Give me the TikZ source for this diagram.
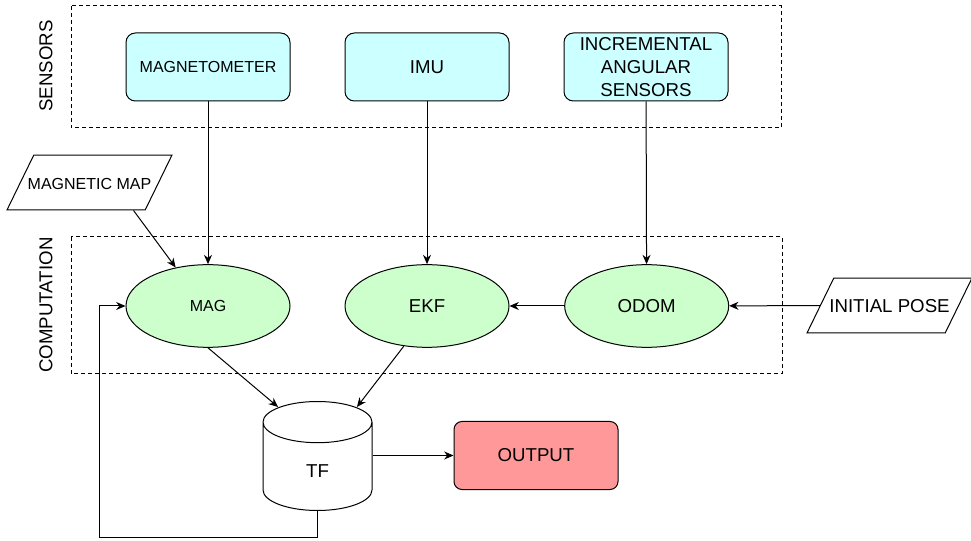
\documentclass[tikz,border=0pt]{standalone}
\usepackage{fontspec}
\setmainfont{Liberation Sans}
\usetikzlibrary{arrows.meta,positioning,shapes.geometric}

\definecolor{sensorfill}{HTML}{CCFFFF}
\definecolor{procfill}{HTML}{CCFFCC}
\definecolor{outfill}{HTML}{FF9999}

\begin{document}
\begin{tikzpicture}[x=0.75pt, y=-0.75pt, line width=0.75pt,
  every node/.style={font=\fontsize{14}{17}\selectfont},
  small/.style={font=\fontsize{12}{14}\selectfont},
  sensor/.style={draw, rounded corners=7pt, fill=sensorfill, minimum width=123pt, minimum height=51pt, align=center, inner sep=1pt},
  proc/.style={draw, ellipse, fill=procfill, minimum width=123pt, minimum height=62pt, inner sep=0pt},
  datain/.style={draw, trapezium, trapezium left angle=64, trapezium right angle=116, trapezium stretches body=true, minimum width=123.75pt, text height=10pt, text depth=0pt, inner ysep=15.6pt, inner xsep=0pt},
  group/.style={draw, dash pattern=on 3pt off 2.25pt},
  arr/.style={-{Stealth[length=7pt,width=6pt]}}]
  \useasboundingbox (0,0) rectangle (971,541);

  % dashed groups
  \draw[group] (71,6) rectangle (781,128);
  \draw[group] (71,237) rectangle (782,374);
  \node (senslbl) [rotate=90] at (46,66) {SENSORS};
  \node (complbl) [rotate=90] at (46,305) {COMPUTATION};

  % sensors
  \node (magneto) [sensor, small] at (208,67) {MAGNETOMETER};
  \node (imu) [sensor, right=40.5pt of magneto] {IMU};
  \node (ias) [sensor, right=40.5pt of imu] {INCREMENTAL\\ANGULAR\\SENSORS};

  % computation
  \node (mag) [proc, small] at (208,306) {MAG};
  \node (ekf) [proc, right=40.5pt of mag] {EKF};
  \node (odom) [proc, right=41pt of ekf] {ODOM};

  % text wider than the slanted body, so box it to zero width
  \node (map) [datain, small] at (89.5,182.5) {\makebox[0pt]{MAGNETIC MAP}};
  \node (pose) [datain] at (889.5,305.5) {\makebox[0pt]{INITIAL POSE}};

  \node (tf) [draw, cylinder, shape border rotate=90, aspect=1.3, minimum width=81.75pt, minimum height=81.75pt, anchor=north] at (317.5,401) {TF};
  \node (out) [draw, rounded corners=6pt, fill=outfill, minimum width=123pt, minimum height=51pt] at (536,455.5) {OUTPUT};

  \draw[arr] (magneto) -- (mag);
  \draw[arr] (imu) -- (ekf);
  \draw[arr] (ias) -- (odom);
  \draw[arr] (odom) -- (ekf);
  \draw[arr] (pose) -- (odom);
  \draw[arr] ([xshift=-9pt]map.bottom right corner) -- (mag.130);
  \draw[arr] (mag.south) -- ([shift={(-29.6pt,-4.5pt)}]tf.north);
  \draw[arr] (ekf.240) -- ([shift={(29.6pt,-4.5pt)}]tf.north);
  \draw[arr] (tf.east |- out.west) -- (out.west);
  \coordinate (back) at (99,537);
  \draw[arr] (tf.south) |- (back) |- (mag.west);
\end{tikzpicture}
\end{document}
